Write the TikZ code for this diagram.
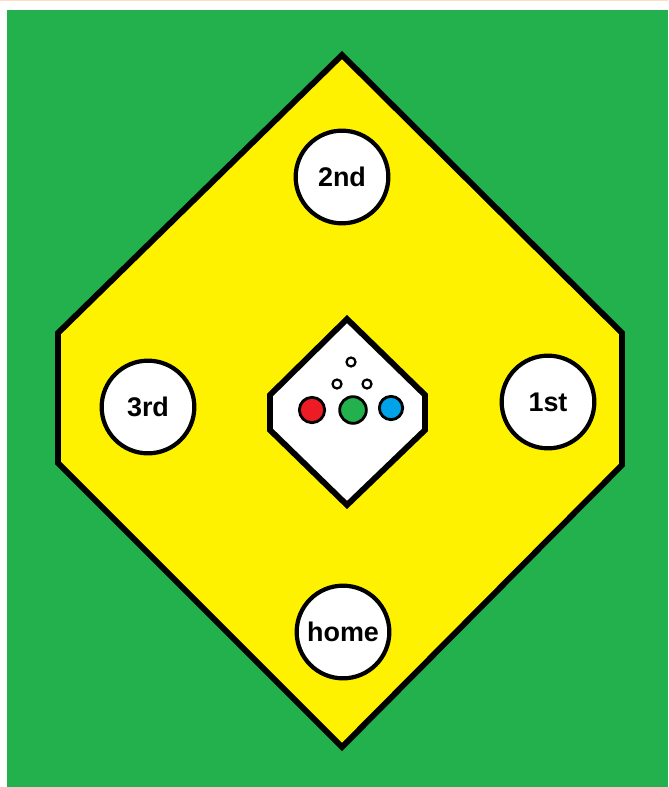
\documentclass[tikz,border=0pt]{standalone}
\usepackage{fontspec}
\setmainfont{Liberation Sans}
\usetikzlibrary{positioning}
\definecolor{fieldgreen}{RGB}{34, 177, 76}
\definecolor{dirtyellow}{RGB}{255, 242, 0}
\definecolor{ballred}{RGB}{237, 28, 36}
\definecolor{ballblue}{RGB}{0, 162, 232}
\definecolor{edgepeach}{RGB}{253, 222, 196}
\tikzset{
 base/.style={
 circle,
 draw=black,
 fill=white,
 line width=3.6pt,
 minimum size=2.78cm,
 inner sep=0pt,
 font=\fontsize{23}{23}\selectfont\bfseries
 },
 ball/.style={
 circle,
 draw=black,
 line width=2.4pt,
 inner sep=0pt
 },
 spot/.style={
 circle,
 draw=black,
 fill=white,
 line width=1.9pt,
 minimum size=0.27cm,
 inner sep=0pt
 },
 outline/.style={draw=black, line width=5pt, line join=miter}
}

\begin{document}
\begin{tikzpicture}[x=0.03cm, y=-0.03cm]
 % background and frame
 \useasboundingbox (0,0) rectangle (668,787);
 \fill[white] (0,0) rectangle (668,787);
 \fill[edgepeach] (0,0) rectangle (668,1.5);
 \fill[fieldgreen] (7,10) rectangle (668,787);

 % infield
 \filldraw[outline, fill=dirtyellow] (342,55) -- (622,333) -- (622,465)
 -- (342,747) -- (58,463) -- (58,333) -- cycle;

 % mound
 \filldraw[outline, fill=white] (347,319) -- (425,395) -- (425,430)
 -- (347,505) -- (270,430) -- (270,395) -- cycle;

 % bases
 \node[base] (second) at (342,177) {2nd};
 \node[base] (third) at (148,407) {3rd};
 \node[base] (first) at (548,402) {1st};
 \node[base] (home) at (343,632) {home};

 % balls on the mound
 \node[ball, fill=ballred, minimum size=0.76cm] (redball) at (312,410) {};
 \node[ball, fill=fieldgreen, minimum size=0.8cm] (greenball) at (353,410) {};
 \node[ball, fill=ballblue, minimum size=0.7cm] (blueball) at (391,408) {};
 \node[spot] (topspot) at (351,362) {};
 \node[spot] (leftspot) at (337,384) {};
 \node[spot] (rightspot) at (367,384) {};
\end{tikzpicture}
\end{document}
